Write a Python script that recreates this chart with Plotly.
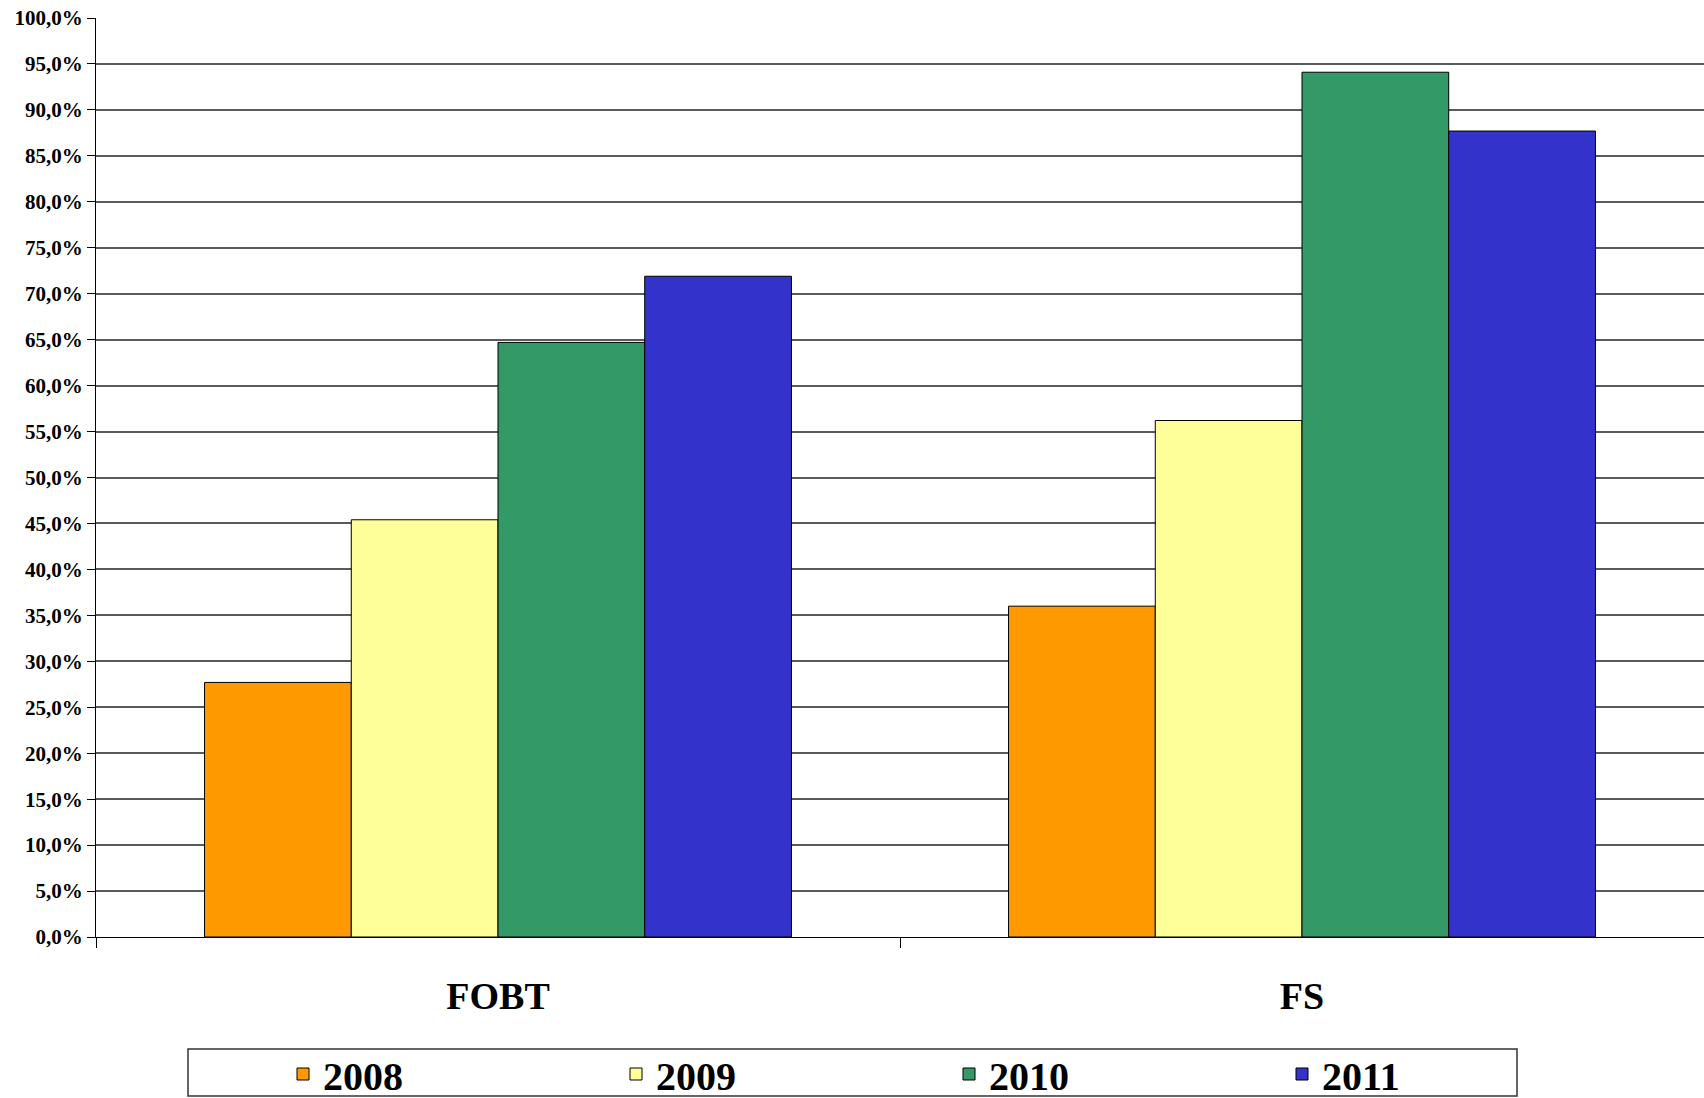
import plotly.graph_objects as go

categories = ["FOBT", "FS"]
years = ["2008", "2009", "2010", "2011"]
values_2008 = [27.7, 36.0]
values_2009 = [45.4, 56.2]
values_2010 = [64.7, 94.1]
values_2011 = [71.9, 87.7]
series_values = [values_2008, values_2009, values_2010, values_2011]
colors = ["#FF9900", "#FFFF99", "#339966", "#3333CC"]

tick_vals = [0, 5, 10, 15, 20, 25, 30, 35, 40, 45, 50, 55, 60, 65, 70, 75, 80, 85, 90, 95, 100]
tick_text = ["0,0%", "5,0%", "10,0%", "15,0%", "20,0%", "25,0%", "30,0%", "35,0%", "40,0%",
             "45,0%", "50,0%", "55,0%", "60,0%", "65,0%", "70,0%", "75,0%", "80,0%",
             "85,0%", "90,0%", "95,0%", "100,0%"]

SERIF = "Liberation Serif"

fig = go.Figure()
for name, vals, col in zip(years, series_values, colors):
    fig.add_trace(go.Bar(
        x=categories, y=vals, name=name,
        marker=dict(color=col, line=dict(color="black", width=1)),
    ))

W, H = 1704, 1098
L, R, T, B = 96, 0, 18, 161
pw = W - L - R
ph = H - T - B

def px_x(x):
    return (x - L) / pw

def px_y(y):
    return (H - B - y) / ph

fig.update_layout(
    width=W, height=H,
    margin=dict(l=L, r=R, t=T, b=B, autoexpand=False),
    paper_bgcolor="white", plot_bgcolor="white",
    barmode="group", bargap=0.27, bargroupgap=0.0,
    showlegend=True,
    legend=dict(
        orientation="h",
        x=px_x(283), xanchor="left",
        y=px_y(1074), yanchor="middle",
        font=dict(family=SERIF, size=40, color="black", weight="bold"),
        entrywidth=288, entrywidthmode="pixels",
        bgcolor="rgba(0,0,0,0)", borderwidth=0,
        itemclick=False, itemdoubleclick=False,
    ),
    font=dict(family=SERIF, color="black"),
    shapes=[dict(
        type="rect", xref="paper", yref="paper",
        x0=px_x(188), x1=px_x(1517), y0=px_y(1096), y1=px_y(1049),
        line=dict(color="#333333", width=1.5), fillcolor="rgba(0,0,0,0)", layer="below",
    )],
)

fig.update_xaxes(
    showline=True, linecolor="black", linewidth=1,
    ticks="outside", tickson="boundaries", ticklen=10, tickcolor="black", tickwidth=1,
    showgrid=False,
    tickfont=dict(family=SERIF, size=38, color="black", weight="bold"),
    ticklabelstandoff=25,
)
fig.update_yaxes(
    range=[0, 100], tickvals=tick_vals, ticktext=tick_text,
    showline=True, linecolor="black", linewidth=1,
    ticks="outside", ticklen=8, tickcolor="black", tickwidth=1,
    showgrid=True, gridcolor="#5a5a5a", gridwidth=1.5,
    zeroline=False,
    tickfont=dict(family=SERIF, size=21, color="black", weight="bold"),
)

fig.write_html("out.html", config={"displayModeBar": False},
               post_script="document.body.style.margin='0';")
